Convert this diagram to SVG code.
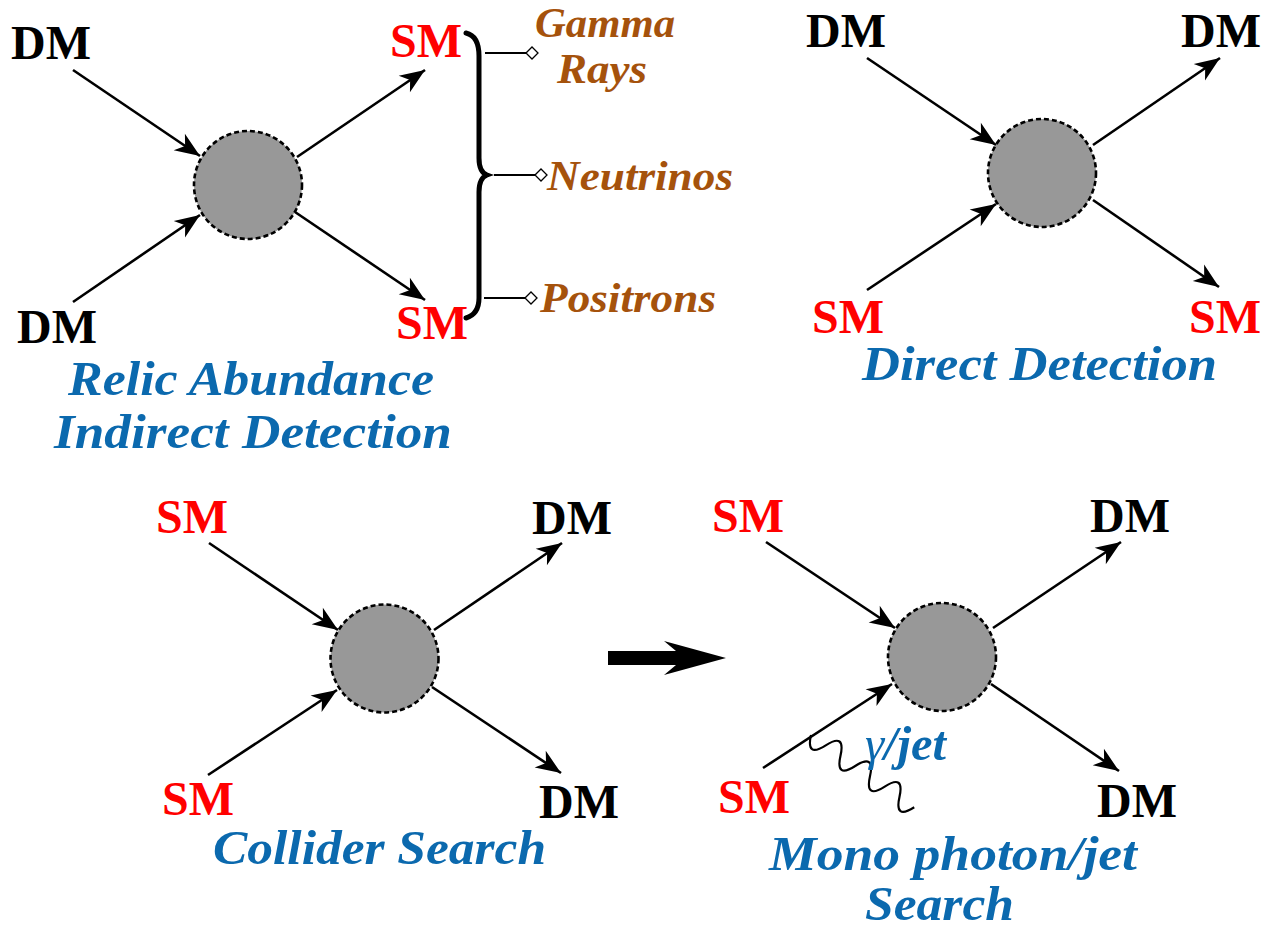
<svg xmlns="http://www.w3.org/2000/svg" width="1270" height="930" viewBox="0 0 1270 930">
  <style>
    .bg { fill: #ffffff; }
    .blob { fill: #989898; stroke: #000; stroke-width: 2.6; stroke-dasharray: 5 3; }
    .leg { fill: none; stroke: #000; stroke-width: 2.6; marker-end: url(#head); }
    .dm { font-family: "Liberation Serif", "Times New Roman", serif; font-weight: bold; font-size: 48px; fill: #000; }
    .sm { font-family: "Liberation Serif", "Times New Roman", serif; font-weight: bold; font-size: 48px; fill: #ff0000; }
    .title { font-family: "Liberation Serif", "Times New Roman", serif; font-weight: bold; font-style: italic; font-size: 48px; fill: #0b69ae; }
    .signal { font-family: "Liberation Serif", "Times New Roman", serif; font-weight: bold; font-style: italic; font-size: 43px; fill: #a5520c; }
    .tick { stroke: #000; stroke-width: 2; }
    .diamond { fill: #fff; stroke: #000; stroke-width: 1.3; }
  </style>
  <defs>
    <marker id="head" markerUnits="userSpaceOnUse" markerWidth="27" markerHeight="21" refX="25" refY="10" orient="auto" overflow="visible">
      <path d="M0,0 L25,10 L0,20 L7,10 Z" fill="#000"/>
    </marker>
  </defs>
  <rect class="bg" x="0" y="0" width="1270" height="930"/>

  <!-- interaction vertices -->
  <g id="vertex-annihilation"><circle class="blob" cx="248" cy="185" r="54"/></g>
  <g id="vertex-scattering"><circle class="blob" cx="1042" cy="173" r="54"/></g>
  <g id="vertex-production"><circle class="blob" cx="384.5" cy="658.5" r="54"/></g>
  <g id="vertex-mono"><circle class="blob" cx="942" cy="657" r="54"/></g>

  <!-- particle lines -->
  <g id="connectors">
    <line class="leg" x1="73" y1="70" x2="200" y2="156"/>
    <line class="leg" x1="73" y1="302" x2="200" y2="215"/>
    <line class="leg" x1="297" y1="157" x2="425" y2="70"/>
    <line class="leg" x1="295" y1="212" x2="425" y2="300"/>

    <line class="leg" x1="867" y1="58" x2="996" y2="145"/>
    <line class="leg" x1="867" y1="290" x2="996" y2="204"/>
    <line class="leg" x1="1093" y1="145" x2="1220" y2="58"/>
    <line class="leg" x1="1093" y1="200" x2="1219" y2="287"/>

    <line class="leg" x1="209" y1="543" x2="338" y2="630"/>
    <line class="leg" x1="208" y1="775" x2="337" y2="690"/>
    <line class="leg" x1="434" y1="630" x2="562" y2="543"/>
    <line class="leg" x1="432" y1="687" x2="561" y2="773"/>

    <line class="leg" x1="766" y1="542" x2="895" y2="628"/>
    <line class="leg" x1="763" y1="768" x2="892" y2="684"/>
    <line class="leg" x1="993" y1="628" x2="1121" y2="542"/>
    <line class="leg" x1="991" y1="684" x2="1119" y2="771"/>

    <!-- radiated photon / jet -->
    <path d="M0,0 Q9,22 18,0 T36,0 T54,0 T72,0 T90,0 T108,0 T126,0" transform="translate(811,735) rotate(35)" fill="none" stroke="#000" stroke-width="2.2"/>

    <!-- brace grouping the annihilation products -->
    <path d="M466,33 Q479,36 479,56 L479,158 Q479,172 487,175 Q479,178 479,192 L479,298 Q479,314 466,318" fill="none" stroke="#000" stroke-width="5" stroke-linecap="round"/>
    <line class="tick" x1="485" y1="53" x2="526" y2="53"/>
    <path class="diamond" d="M526,53 L532,47 L538,53 L532,59 Z"/>
    <line class="tick" x1="494" y1="175" x2="535" y2="175"/>
    <path class="diamond" d="M535,175 L541,169 L547,175 L541,181 Z"/>
    <line class="tick" x1="484" y1="298" x2="525" y2="298"/>
    <path class="diamond" d="M525,298 L531,292 L537,298 L531,304 Z"/>

    <!-- transition arrow -->
    <path d="M608,651 L676,651 L664,641 L726,658 L664,675 L676,665 L608,665 Z" fill="#000"/>
  </g>

  <!-- labels: annihilation -->
  <g id="labels-annihilation">
    <text class="dm" x="11" y="59">DM</text>
    <text class="dm" x="17" y="343">DM</text>
    <text class="sm" x="390" y="57">SM</text>
    <text class="sm" x="396" y="339">SM</text>
    <text class="signal" x="535" y="37" textLength="140" lengthAdjust="spacingAndGlyphs">Gamma</text>
    <text class="signal" x="557" y="83" textLength="90" lengthAdjust="spacingAndGlyphs">Rays</text>
    <text class="signal" x="547" y="190" textLength="186" lengthAdjust="spacingAndGlyphs">Neutrinos</text>
    <text class="signal" x="540" y="312" textLength="176" lengthAdjust="spacingAndGlyphs">Positrons</text>
    <text class="title" x="68" y="395" textLength="366" lengthAdjust="spacingAndGlyphs">Relic Abundance</text>
    <text class="title" x="54" y="448" textLength="398" lengthAdjust="spacingAndGlyphs">Indirect Detection</text>
  </g>

  <!-- labels: scattering -->
  <g id="labels-scattering">
    <text class="dm" x="806" y="47">DM</text>
    <text class="dm" x="1181" y="47">DM</text>
    <text class="sm" x="812" y="333">SM</text>
    <text class="sm" x="1189" y="333">SM</text>
    <text class="title" x="862" y="380" textLength="355" lengthAdjust="spacingAndGlyphs">Direct Detection</text>
  </g>

  <!-- labels: production -->
  <g id="labels-production">
    <text class="sm" x="156" y="533">SM</text>
    <text class="dm" x="532" y="534">DM</text>
    <text class="sm" x="162" y="815">SM</text>
    <text class="dm" x="539" y="818">DM</text>
    <text class="title" x="213" y="864" textLength="333" lengthAdjust="spacingAndGlyphs">Collider Search</text>
  </g>

  <!-- labels: mono photon / jet -->
  <g id="labels-mono">
    <text class="sm" x="712" y="532">SM</text>
    <text class="dm" x="1090" y="532">DM</text>
    <text class="sm" x="718" y="813">SM</text>
    <text class="dm" x="1097" y="817">DM</text>
    <text class="title" x="865" y="760" font-size="34" textLength="81" lengthAdjust="spacingAndGlyphs"><tspan font-weight="normal">γ</tspan>/jet</text>
    <text class="title" x="769" y="870" textLength="368" lengthAdjust="spacingAndGlyphs">Mono photon/jet</text>
    <text class="title" x="865" y="920" textLength="149" lengthAdjust="spacingAndGlyphs">Search</text>
  </g>
</svg>
